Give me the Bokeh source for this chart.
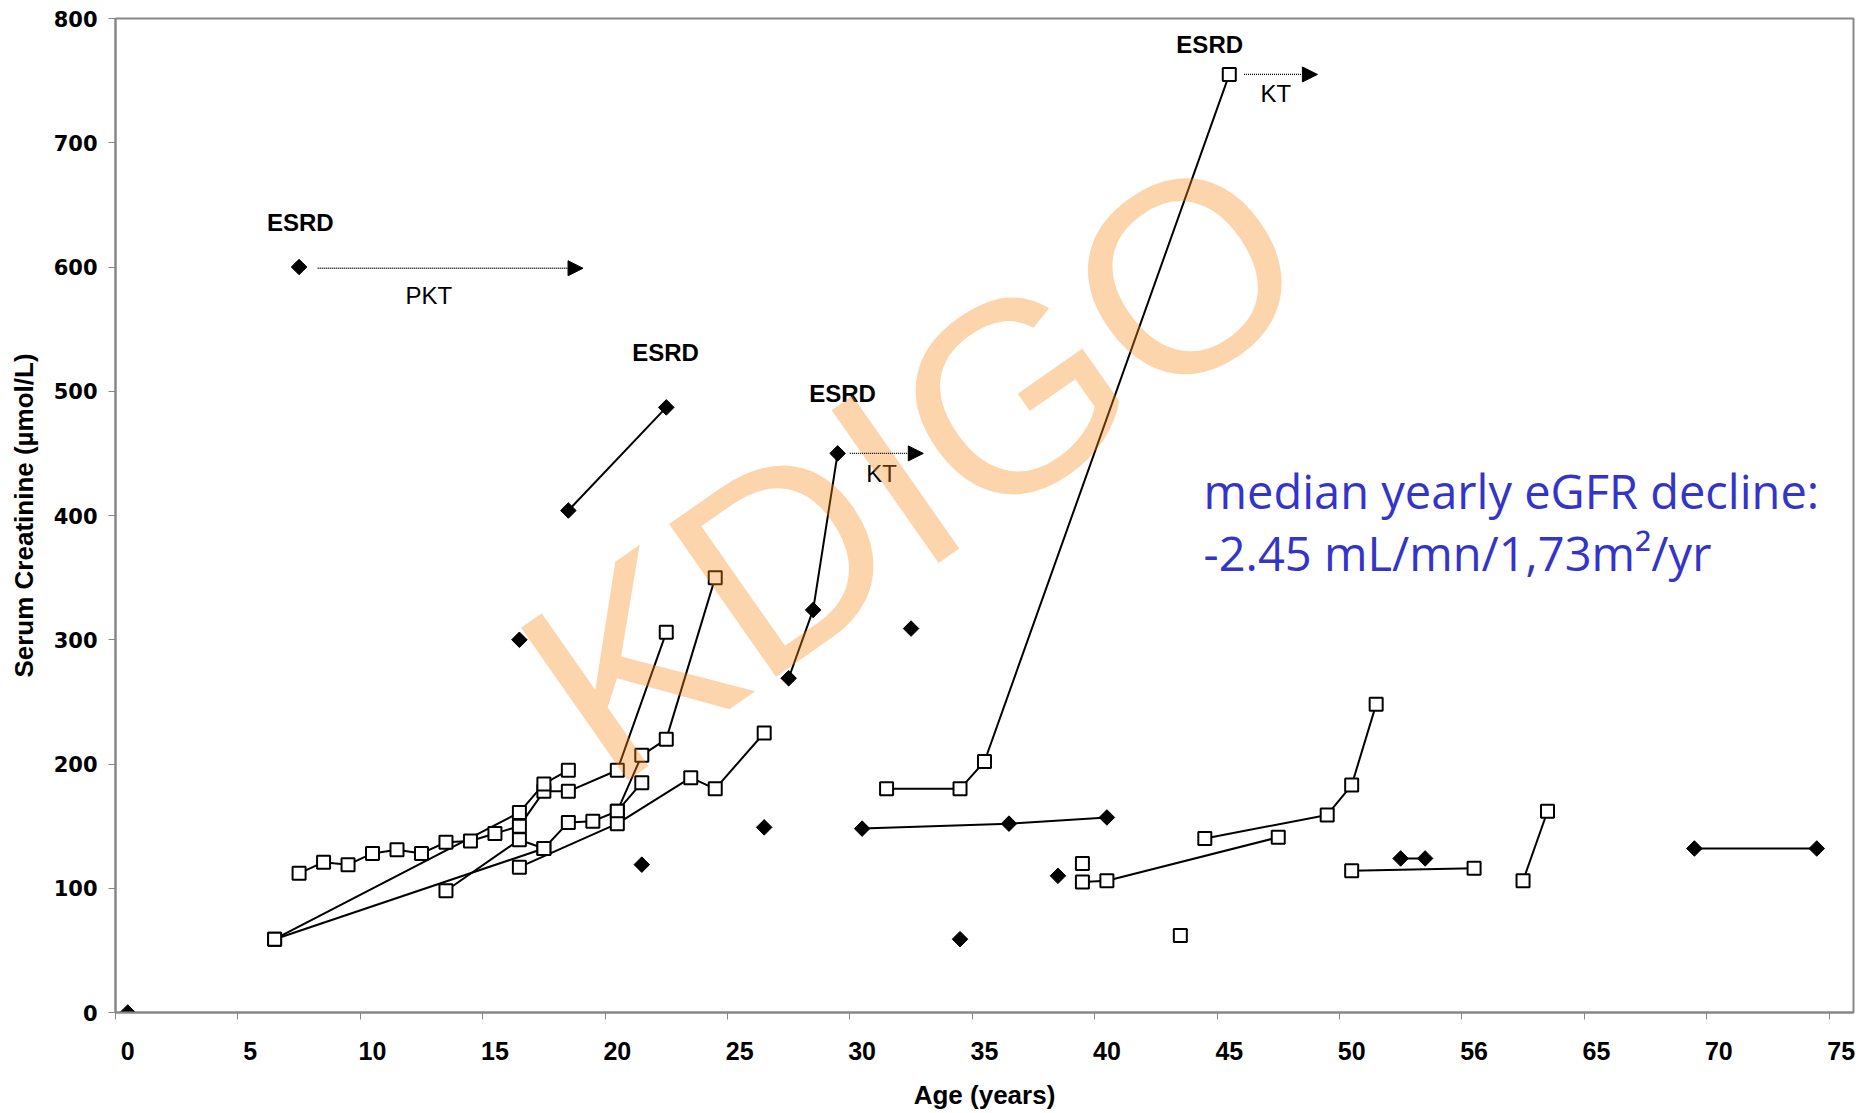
from bokeh.plotting import figure
from bokeh.models import (Range1d, FixedTicker, LinearAxis, ColumnDataSource,
                          Arrow, NormalHead)
from bokeh.core.properties import value
from bokeh.embed import file_html
from bokeh.resources import INLINE
import math

# ---------------- data ----------------
# open squares: one list per patient (x = position on age axis, y = serum creatinine)
square_x = [
    [7, 8, 9, 10, 11, 12, 13, 14, 15, 16, 17, 18, 20, 22],
    [6, 16, 17, 18],
    [6, 17],
    [13, 16, 17, 18, 19, 20, 21, 22, 24],
    [20, 21],
    [16, 20, 23, 24, 26],
    [31, 34, 35, 45],
    [39],
    [39, 40, 47],
    [43],
    [44, 49, 50, 51],
    [50, 55],
    [57, 58],
]
square_y = [
    [112, 121, 119, 128, 131, 128, 137, 138, 144, 150, 178, 178, 195, 306],
    [59, 161, 184, 195],
    [59, 132],
    [98, 139, 132, 153, 154, 162, 207, 220, 350],
    [162, 185],
    [117, 152, 189, 180, 225],
    [180, 180, 202, 755],
    [120],
    [105, 106, 141],
    [62],
    [140, 159, 183, 248],
    [114, 116],
    [106, 162],
]
# filled diamonds: one list per patient
diamond_x = [
    [0], [7], [16], [18, 22], [21], [26], [27, 28, 29], [32],
    [30, 36, 40], [34], [38], [52, 53], [64, 69],
]
diamond_y = [
    [0], [600], [300], [404, 487], [119], [149], [269, 324, 450], [309],
    [148, 152, 157], [59], [110], [124, 124], [132, 132],
]

x_ticks = [0, 5, 10, 15, 20, 25, 30, 35, 40, 45, 50, 55, 60, 65, 70]
x_tick_labels = ["0", "5", "10", "15", "20", "25", "30", "35", "40", "45",
                 "50", "56", "65", "70", "75"]
y_ticks = [0, 100, 200, 300, 400, 500, 600, 700, 800]

esrd_x = [7.05, 21.97, 29.2, 44.2]
esrd_y = [636, 531, 498, 779]

tx_label = ["PKT", "KT", "KT"]
tx_label_x = [12.3, 30.8, 46.9]
tx_label_y = [577, 434, 740]
arrow_x0 = [7.76, 29.5, 45.6]
arrow_x1 = [18.6, 32.5, 48.6]
arrow_y = [599, 450, 755]

note_lines = ["median yearly eGFR decline:", "-2.45 mL/mn/1,73m\u00b2/yr"]
note_x = [43.95, 43.95]
note_y = [420, 370]

watermark = "KDIGO"

# ---------------- figure ----------------
GRAY = "#878787"
p = figure(width=1860, height=1113, x_range=Range1d(-0.5, 70.5),
           y_range=Range1d(0, 800), output_backend="svg",
           toolbar_location=None, min_border_left=115, min_border_right=7,
           min_border_top=18, min_border_bottom=101)
p.xgrid.visible = False
p.ygrid.visible = False
p.outline_line_color = GRAY
p.outline_line_width = 2
p.background_fill_color = "white"
p.border_fill_color = "white"

# y axis
ya = p.yaxis[0]
ya.ticker = FixedTicker(ticks=y_ticks)
ya.axis_line_color = GRAY
ya.axis_line_width = 2
ya.major_tick_line_color = GRAY
ya.major_tick_line_width = 1
ya.major_tick_out = 7
ya.major_tick_in = 0
ya.minor_tick_line_color = None
ya.major_label_text_font = "DejaVu Sans"
ya.major_label_text_font_style = "bold"
ya.major_label_text_font_size = "21px"
ya.major_label_text_color = "black"
ya.major_label_standoff = 11
ya.axis_label = "Serum Creatinine (\u00b5mol/L)"
ya.axis_label_text_font = "Liberation Sans"
ya.axis_label_text_font_style = "bold"
ya.axis_label_text_font_size = "26px"
ya.axis_label_text_color = "black"
ya.axis_label_standoff = 12

# x axis 1: tick marks only (between-category style)
xa = p.xaxis[0]
tick_marks = [t - 0.5 for t in x_ticks]
xa.ticker = FixedTicker(ticks=tick_marks)
xa.major_label_overrides = {t: "" for t in tick_marks}
xa.major_label_text_font_size = "1px"
xa.major_label_standoff = 0
xa.axis_line_color = GRAY
xa.axis_line_width = 2
xa.major_tick_line_color = GRAY
xa.major_tick_out = 7
xa.major_tick_in = 0
xa.minor_tick_line_color = None

# x axis 2: labels
xa2 = LinearAxis(ticker=FixedTicker(ticks=x_ticks),
                 major_label_overrides=dict(zip(x_ticks, x_tick_labels)),
                 axis_line_color=None, major_tick_line_color=None,
                 minor_tick_line_color=None, major_tick_out=0, major_tick_in=0)
xa2.major_label_text_font = "Liberation Sans"
xa2.major_label_text_font_style = "bold"
xa2.major_label_text_font_size = "25px"
xa2.major_label_text_color = "black"
xa2.major_label_standoff = 22
xa2.axis_label = "Age (years)"
xa2.axis_label_text_font = "Liberation Sans"
xa2.axis_label_text_font_style = "bold"
xa2.axis_label_text_font_size = "26px"
xa2.axis_label_text_color = "black"
xa2.axis_label_standoff = 17
p.add_layout(xa2, "below")

# lines
p.multi_line(xs=[s for s in square_x if len(s) > 1],
             ys=[s for s, xx in zip(square_y, square_x) if len(xx) > 1],
             line_color="black", line_width=2)
p.multi_line(xs=[s for s in diamond_x if len(s) > 1],
             ys=[s for s, xx in zip(diamond_y, diamond_x) if len(xx) > 1],
             line_color="black", line_width=2)

# arrows (transplant)
arrow_src = ColumnDataSource(dict(x0=arrow_x0, x1=arrow_x1, y=arrow_y))
p.add_layout(Arrow(end=NormalHead(size=15, fill_color="black", line_color="black"),
                   x_start="x0", y_start="y", x_end="x1", y_end="y",
                   source=arrow_src, line_color="black", line_width=1.3,
                   line_dash="1 1"))

# markers
sx = [v for s in square_x for v in s]
sy = [v for s in square_y for v in s]
dx = [v for s in diamond_x for v in s]
dy = [v for s in diamond_y for v in s]
p.scatter(sx, sy, marker="square", size=13, fill_color="white",
          line_color="black", line_width=2)
p.scatter(dx, dy, marker="square", size=11, angle=math.pi / 4,
          fill_color="black", line_color="black", line_width=1)

# annotations text
p.text(x=esrd_x, y=esrd_y, text=["ESRD"] * len(esrd_x),
       text_font=value("Liberation Sans"), text_font_style="bold",
       text_font_size="24px", text_align="center", text_baseline="middle",
       text_color="black")
p.text(x=tx_label_x, y=tx_label_y, text=tx_label,
       text_font=value("Liberation Sans"), text_font_size="24px",
       text_align="center", text_baseline="middle", text_color="black")
p.text(x=note_x, y=note_y, text=note_lines,
       text_font=value("Open Sans"), text_font_size="47px",
       text_align="left", text_baseline="alphabetic", text_color="#3434C8")

# watermark
p.text(x=[32.1], y=[440], text=[watermark], angle=35, angle_units="deg",
       text_font=value("Liberation Sans"), text_font_size="271px",
       text_align="center", text_baseline="middle",
       text_color="#F98A1A", text_alpha=0.36)

open("out.html", "w").write(file_html(p, INLINE))
